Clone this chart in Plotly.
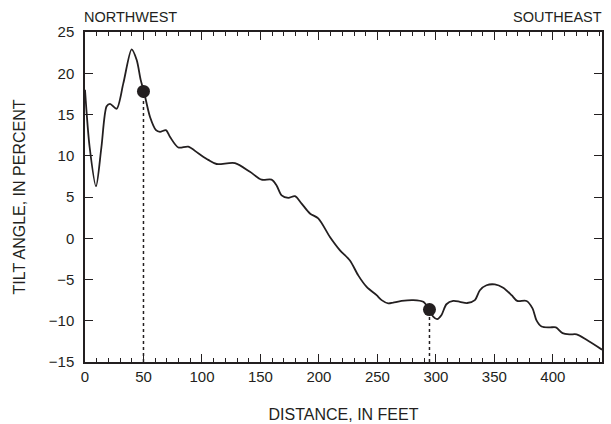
import plotly.graph_objects as go

# Profile data: distance (ft) vs tilt angle (percent)
distance = [0, 4, 9.4, 14, 18.5, 21.4, 27, 32.8, 39.9, 44.2, 47.6, 50.4, 55.6, 60.7, 64.1,
            69.2, 72.6, 79.8, 88.3, 96.8, 105.4, 112.5, 128.2, 141, 151, 159.5, 163.8,
            168.1, 173.8, 179.5, 185.2, 192.3, 199.4, 209.4, 218, 226.5, 233.6, 240.8,
            249.3, 253.6, 259.3, 263.5, 270.7, 280.6, 289.2, 294.3, 297.7, 301.1, 304.8,
            309, 314.8, 320.5, 326.7, 333.3, 337.6, 343.3, 350.4, 357.5, 364.7, 369.5,
            377.5, 382.6, 386, 390.3, 397.4, 402.6, 408.3, 414.5, 420.3, 428.8, 442]
tilt = [18, 11, 6.3, 11, 16.0, 16.3, 15.7, 18.8, 22.9, 21.6, 19.2, 17.75, 14.7, 13.1, 12.9,
        13.1, 12.3, 11.0, 11.1, 10.3, 9.5, 9.0, 9.1, 8.05, 7.1, 7.1, 6.4,
        5.2, 4.9, 5.1, 4.2, 3.0, 2.4, 0.16, -1.46, -2.7, -4.5, -5.9,
        -6.9, -7.5, -7.9, -7.8, -7.6, -7.5, -7.7, -8.65, -9.5, -9.8, -9.3,
        -8.0, -7.6, -7.7, -7.85, -7.5, -6.3, -5.7, -5.6, -6.0, -6.9, -7.6,
        -7.6, -8.5, -9.95, -10.7, -10.8, -10.8, -11.5, -11.65, -11.65, -12.3, -13.5]

point_x = [50, 294.5]
point_y = [17.8, -8.65]

x_range = [0, 442]
y_range = [-15, 25]
x_tick_step = 50
x_minor_step = 10
y_tick_step = 5

ink = "#231f20"
font = "Liberation Sans, Arial, sans-serif"

fig = go.Figure()

fig.add_trace(go.Scatter(x=distance, y=tilt, mode="lines",
                         line=dict(color=ink, width=1.8, shape="spline", smoothing=0.8),
                         hoverinfo="skip", showlegend=False))

for px, py in zip(point_x, point_y):
    fig.add_trace(go.Scatter(x=[px, px], y=[y_range[0], py], mode="lines",
                             line=dict(color=ink, width=1.5, dash="dot"),
                             showlegend=False, hoverinfo="skip"))

fig.add_trace(go.Scatter(x=point_x, y=point_y, mode="markers",
                         marker=dict(color=ink, size=13),
                         showlegend=False))

# invisible trace on top axis for mirrored minor ticks
fig.add_trace(go.Scatter(x=[0], y=[0], xaxis="x2", mode="markers",
                         marker=dict(opacity=0), showlegend=False, hoverinfo="skip"))

minor = dict(dtick=x_minor_step, tick0=0, ticks="inside", ticklen=4, tickcolor=ink,
             tickwidth=1, showgrid=False)

title_font = dict(family=font, size=16, color=ink)
tick_font = dict(family=font, size=15, color=ink)

fig.update_layout(
    width=611, height=424,
    margin=dict(l=85, r=9, t=32, b=62),
    paper_bgcolor="white", plot_bgcolor="white",
    font=dict(family=font, size=14, color=ink),
    xaxis=dict(range=x_range, tickmode="linear", tick0=0, dtick=x_tick_step,
               ticks="inside", ticklen=8, automargin=False,
               tickwidth=1.2, tickcolor=ink, showline=True, linecolor=ink, linewidth=1.5,
               showgrid=False, zeroline=False, minor=minor,
               title=dict(text="DISTANCE, IN FEET", standoff=25, font=title_font),
               tickfont=tick_font),
    xaxis2=dict(range=x_range, overlaying="x", side="top", matches="x",
                tickmode="linear", tick0=0, dtick=x_tick_step, automargin=False,
                ticks="inside", ticklen=8, tickwidth=1.2, tickcolor=ink,
                showticklabels=False, showline=True, linecolor=ink, linewidth=1.5,
                showgrid=False, zeroline=False, minor=minor),
    yaxis=dict(range=y_range, tickmode="linear", tick0=-15, dtick=y_tick_step,
               ticks="inside", ticklen=8, tickwidth=1.2, automargin=False,
               tickcolor=ink, showline=True, linecolor=ink, linewidth=1.5, mirror="ticks",
               showgrid=False, zeroline=False, ticklabelstandoff=6,
               title=dict(text="TILT ANGLE, IN PERCENT", standoff=19, font=title_font),
               tickfont=tick_font),
    annotations=[
        dict(text="NORTHWEST", x=0, y=1, xref="paper", yref="paper", xanchor="left",
             yanchor="bottom", yshift=5, xshift=-3, showarrow=False,
             font=dict(family=font, size=14.5, color=ink)),
        dict(text="SOUTHEAST", x=1, y=1, xref="paper", yref="paper", xanchor="right",
             yanchor="bottom", yshift=5, xshift=2, showarrow=False,
             font=dict(family=font, size=14.5, color=ink)),
    ],
)

fig.write_html("out.html")
